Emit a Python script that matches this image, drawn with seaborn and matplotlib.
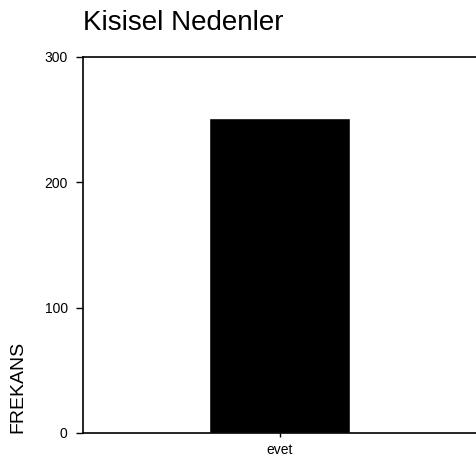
import matplotlib
matplotlib.use('Agg')
import matplotlib.pyplot as plt
import seaborn as sns
import pandas as pd

# %% data
categories = ['evet']
frequencies = [251]

df = pd.DataFrame({'kategori': categories, 'frekans': frequencies})

# %% plot
sns.set_style('white')
plt.rcParams['font.family'] = ['Liberation Sans', 'DejaVu Sans']
plt.rcParams['text.color'] = 'black'

fig = plt.figure(figsize=(4.76, 4.59), dpi=100)
ax = fig.add_axes([83 / 476, 1 - 433 / 459, 1 - 83 / 476, (433 - 57) / 459])

sns.barplot(data=df, x='kategori', y='frekans', color='black',
            width=0.36, ax=ax, saturation=1)

ax.set_xlim(-0.5, 0.5)
ax.set_ylim(0, 300)
ax.set_yticks([0, 100, 200, 300])
ax.tick_params(axis='y', which='major', direction='out', length=5, width=1,
               labelsize=10, pad=6, left=True, colors='black')
ax.tick_params(axis='x', which='major', direction='out', length=3, width=1,
               labelsize=10, pad=4, bottom=True, colors='black')

for side in ['left', 'top', 'bottom']:
    ax.spines[side].set_visible(True)
    ax.spines[side].set_color('black')
    ax.spines[side].set_linewidth(1.2)
ax.spines['right'].set_visible(False)

ax.set_xlabel('')
ax.set_ylabel('')
fig.text(18 / 476, 1 - 387 / 459, 'FREKANS', rotation=90, fontsize=14,
         ha='center', va='center', color='black')
fig.text(83 / 476, 1 - 23 / 459, 'Kisisel Nedenler', fontsize=20,
         ha='left', va='center', color='black')

fig.savefig('out.png', dpi=100)
